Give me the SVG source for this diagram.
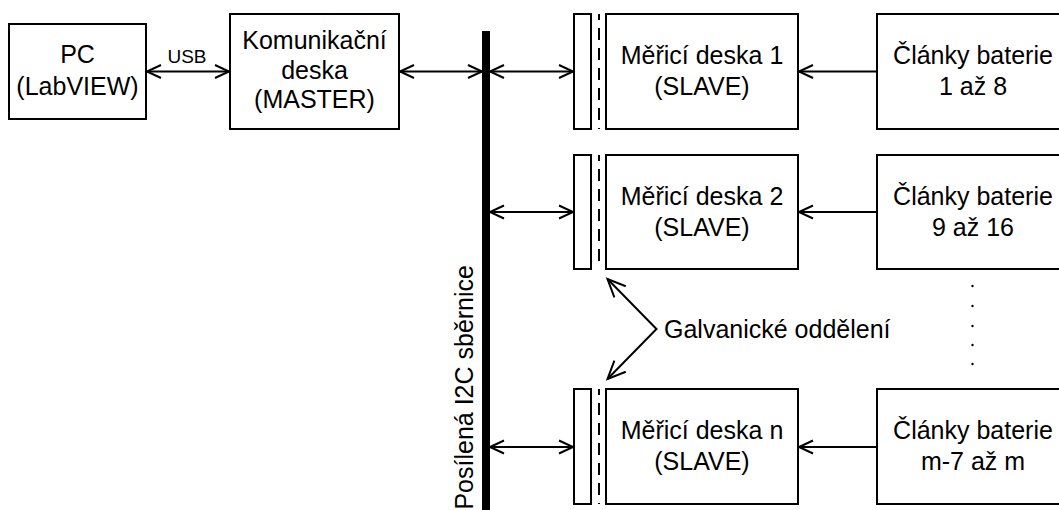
<svg xmlns="http://www.w3.org/2000/svg" width="1059" height="510" viewBox="0 0 1059 510">
<style>
.box{fill:#fff;stroke:#000;stroke-width:2}
.t{font-family:"Liberation Sans",Arial,sans-serif;font-size:25px;fill:#000;text-anchor:middle}
.ln{stroke:#000;stroke-width:2;fill:none}
.dash{stroke:#000;stroke-width:2;stroke-dasharray:12 8;stroke-dashoffset:6}
</style>
<defs>
<marker id="ah" viewBox="0 0 16 14" refX="15" refY="7" markerWidth="16" markerHeight="14" orient="auto-start-reverse" markerUnits="userSpaceOnUse" overflow="visible">
<path d="M1,0.5 L15,7 L1,13.5" fill="none" stroke="#000" stroke-width="2"/>
</marker>
<marker id="ah2" viewBox="0 0 20 18" refX="19" refY="9" markerWidth="20" markerHeight="18" orient="auto-start-reverse" markerUnits="userSpaceOnUse" overflow="visible">
<path d="M1,1 L19,9 L1,17" fill="none" stroke="#000" stroke-width="2"/>
</marker>
</defs>
<rect width="1059" height="510" fill="#fff"/>

<g id="pc">
<rect class="box" x="9" y="24" width="137" height="95"/>
<text class="t" x="77.5" y="63">PC</text>
<text class="t" x="77.5" y="95">(LabVIEW)</text>
</g>

<g id="master">
<rect class="box" x="230" y="14" width="169" height="115"/>
<text class="t" x="314.5" y="49">Komunikační</text>
<text class="t" x="314.5" y="78.5">deska</text>
<text class="t" x="314.5" y="108">(MASTER)</text>
</g>

<g id="bus">
<rect x="482" y="31" width="8" height="479" fill="#000"/>
<text class="t" transform="translate(473,265) rotate(-90)" style="text-anchor:end">Posílená I2C sběrnice</text>
</g>

<g id="slave1">
<rect class="box" x="574" y="14" width="17" height="115"/>
<line class="dash" x1="599" y1="14" x2="599" y2="129"/>
<rect class="box" x="606" y="14" width="192" height="115"/>
<text class="t" x="702" y="64">Měřicí deska 1</text>
<text class="t" x="702" y="95">(SLAVE)</text>
</g>
<g id="cells1">
<rect class="box" x="877" y="14" width="192" height="115"/>
<text class="t" x="973" y="64">Články baterie</text>
<text class="t" x="973" y="95">1 až 8</text>
</g>

<g id="slave2">
<rect class="box" x="574" y="155" width="17" height="114"/>
<line class="dash" x1="599" y1="155" x2="599" y2="269"/>
<rect class="box" x="606" y="155" width="192" height="114"/>
<text class="t" x="702" y="205">Měřicí deska 2</text>
<text class="t" x="702" y="236">(SLAVE)</text>
</g>
<g id="cells2">
<rect class="box" x="877" y="155" width="192" height="114"/>
<text class="t" x="973" y="205">Články baterie</text>
<text class="t" x="973" y="236">9 až 16</text>
</g>

<g id="slaven">
<rect class="box" x="574" y="389" width="17" height="115"/>
<line class="dash" x1="599" y1="389" x2="599" y2="504"/>
<rect class="box" x="606" y="389" width="192" height="115"/>
<text class="t" x="702" y="439">Měřicí deska n</text>
<text class="t" x="702" y="470">(SLAVE)</text>
</g>
<g id="cellsn">
<rect class="box" x="877" y="389" width="192" height="115"/>
<text class="t" x="973" y="439">Články baterie</text>
<text class="t" x="973" y="470">m-7 až m</text>
</g>

<g id="ellipsis" fill="#000">
<circle cx="972.5" cy="286" r="1.2"/>
<circle cx="972.5" cy="306" r="1.2"/>
<circle cx="972.5" cy="326" r="1.2"/>
<circle cx="972.5" cy="345" r="1.2"/>
<circle cx="972.5" cy="364" r="1.2"/>
</g>

<g id="galvanic">
<text class="t" x="664" y="338" style="text-anchor:start">Galvanické oddělení</text>
</g>

<g id="connectors">
<line class="ln" x1="147" y1="71.5" x2="229" y2="71.5" marker-start="url(#ah)" marker-end="url(#ah)"/>
<text x="187" y="63" style="font-family:'Liberation Sans',Arial,sans-serif;font-size:19px;text-anchor:middle">USB</text>
<line class="ln" x1="400" y1="71.5" x2="482" y2="71.5" marker-start="url(#ah)" marker-end="url(#ah)"/>
<line class="ln" x1="490" y1="71.5" x2="573" y2="71.5" marker-start="url(#ah)" marker-end="url(#ah)"/>
<line class="ln" x1="490" y1="212" x2="573" y2="212" marker-start="url(#ah)" marker-end="url(#ah)"/>
<line class="ln" x1="490" y1="447" x2="573" y2="447" marker-start="url(#ah)" marker-end="url(#ah)"/>
<line class="ln" x1="877" y1="71.5" x2="799" y2="71.5" marker-end="url(#ah)"/>
<line class="ln" x1="877" y1="212" x2="799" y2="212" marker-end="url(#ah)"/>
<line class="ln" x1="877" y1="447" x2="799" y2="447" marker-end="url(#ah)"/>
<polyline class="ln" points="607.5,279 656.5,329 607.5,379" marker-start="url(#ah2)" marker-end="url(#ah2)"/>
</g>
</svg>
